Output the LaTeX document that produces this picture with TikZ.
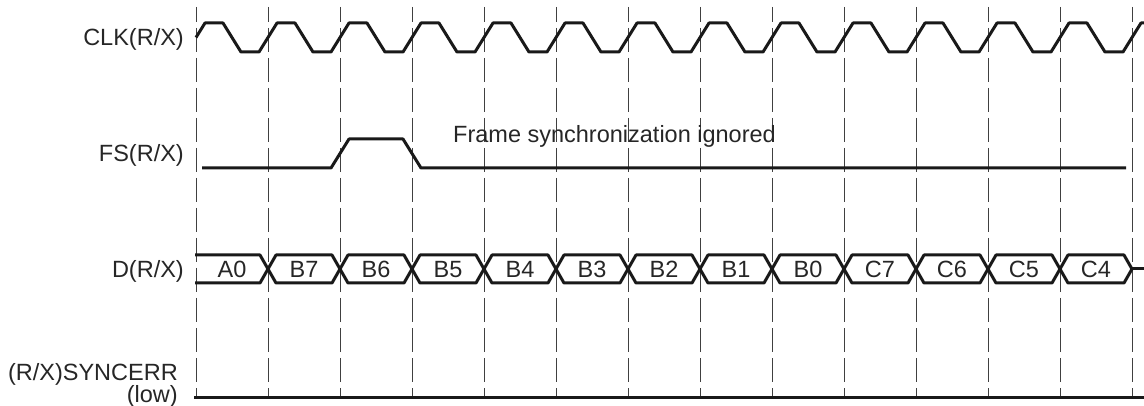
\documentclass[tikz,border=0pt]{standalone}
\usepackage{fontspec}
\setmainfont{Liberation Sans}
\begin{document}
\begin{tikzpicture}[x=1pt,y=-1pt,
  wave/.style={line width=3pt,line join=round,color=black!90},
  gridline/.style={line width=1pt,color=black!75,dash pattern=on 24pt off 6pt,dash phase=9pt},
  lbl/.style={font=\fontsize{23.5}{26}\selectfont,inner sep=0pt,text=black!85},
  bitlbl/.style={font=\fontsize{23.5}{26}\selectfont,inner sep=0pt,text=black!85}]
\useasboundingbox (0,0) rectangle (1144,406);
% dashed time grid
\foreach \i in {0,...,13}{
  \draw[gridline] ({196+72*\i},7) -- ({196+72*\i},398);
}
% labels
\node[lbl,anchor=base east] (clkl) at (184,46) {CLK(R/X)};
\node[lbl,anchor=base east] (fsl) at (184,162) {FS(R/X)};
\node[lbl,anchor=base east] (dl) at (184,278) {D(R/X)};
\node[lbl,anchor=base east] (sel) at (178,380) {(R/X)SYNCERR};
\node[lbl,anchor=base east] (sel2) at (178,402) {(low)};
\node[lbl,anchor=base west] (note) at (453,143) {Frame synchronization ignored};
% CLK
\draw[wave] (196,37.5) foreach \k in {0,...,12}{
  -- ({196+72*\k+9},23) -- ({196+72*\k+27},23) -- ({196+72*\k+45},52) -- ({196+72*\k+63},52)
} -- (1141,23) -- (1144,23);
% FS
\draw[wave] (202,168) -- (331,168) -- (349,139) -- (403,139) -- (421,168) -- (1126,168);
% D
\draw[wave] (195,255) -- (260,255) -- (268,269) -- (260,283) -- (195,283);
\foreach \k in {1,...,12}{
  \draw[wave] ({196+72*\k},269) -- ({196+72*\k+8},255) -- ({196+72*\k+64},255)
    -- ({196+72*\k+72},269) -- ({196+72*\k+64},283) -- ({196+72*\k+8},283) -- cycle;
}
\draw[wave] (1132,269) -- (1144,269);
\foreach \t [count=\k from 0] in {A0,B7,B6,B5,B4,B3,B2,B1,B0,C7,C6,C5,C4}{
  \node[bitlbl,anchor=base] (bit\k) at ({196+72*\k+36},277.5) {\t};
}
% SYNCERR
\draw[wave] (194,397) -- (1144,397);
\end{tikzpicture}
\end{document}
